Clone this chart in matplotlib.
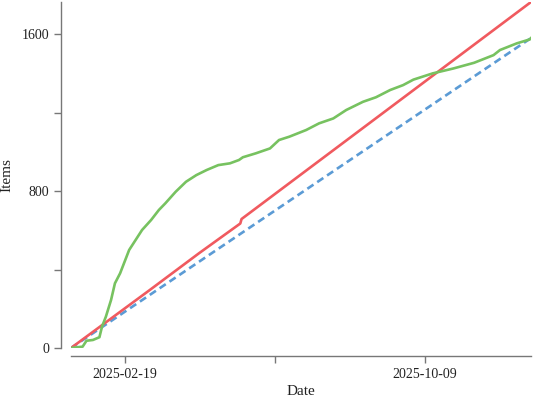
import matplotlib
matplotlib.use("Agg")
import matplotlib.pyplot as plt
import matplotlib.dates as mdates
import pandas as pd

plt.rcParams['font.family'] = ['Liberation Serif', 'DejaVu Serif']

# Serie verde (itens acumulados reais)
green_dates = ["2025-01-08", "2025-01-17", "2025-01-20", "2025-01-25", "2025-01-30",
               "2025-02-01", "2025-02-04", "2025-02-08", "2025-02-11", "2025-02-15",
               "2025-02-19", "2025-02-22", "2025-02-27", "2025-03-04", "2025-03-11",
               "2025-03-17", "2025-03-22", "2025-03-30", "2025-04-07", "2025-04-15",
               "2025-04-23", "2025-05-02", "2025-05-11", "2025-05-18", "2025-05-21",
               "2025-05-31", "2025-06-11", "2025-06-18", "2025-06-26", "2025-07-09",
               "2025-07-19", "2025-07-30", "2025-08-09", "2025-08-22", "2025-09-01",
               "2025-09-12", "2025-09-22", "2025-09-30", "2025-10-15", "2025-10-31",
               "2025-11-16", "2025-12-01", "2025-12-06", "2025-12-19", "2025-12-29",
               "2025-12-30"]
green_values = [0, 7, 37, 41, 55, 109, 160, 245, 330, 381,
                449, 500, 551, 602, 653, 704, 738, 797, 848, 882,
                908, 933, 942, 959, 973, 993, 1018, 1061, 1078, 1112,
                1146, 1171, 1214, 1256, 1279, 1316, 1341, 1369, 1401, 1426,
                1455, 1494, 1520, 1554, 1574, 1581]

# Serie vermelha
red_dates = ["2025-01-08", "2025-03-10", "2025-04-17", "2025-05-19", "2025-05-20", "2025-12-30"]
red_values = [0, 296, 483, 635, 658, 1765]

# Serie azul tracejada
blue_dates = ["2025-01-08", "2025-12-30"]
blue_values = [0, 1581]

xtick_dates = ["2025-02-19", "2025-06-15", "2025-10-09"]
xtick_labels = ["2025-02-19", "", "2025-10-09"]
ytick_values = [0, 400, 800, 1200, 1600]
ytick_labels = ["0", "", "800", "", "1600"]

fig = plt.figure(figsize=(5.33, 4), dpi=100)
ax = fig.add_axes([71 / 533, 52 / 400, 460 / 533, 346 / 400])

ax.plot(pd.to_datetime(blue_dates), blue_values, color="#5b9bd5", lw=1.9,
        dashes=(2.8, 1.7), solid_capstyle="butt")
ax.plot(pd.to_datetime(red_dates), red_values, color="#f05a5f", lw=1.9)
ax.plot(pd.to_datetime(green_dates), green_values, color="#77c260", lw=1.9)

ax.set_xlim(pd.Timestamp("2025-01-08"), pd.Timestamp("2025-12-30"))
ax.set_ylim(0, 1765)

ax.set_xticks(pd.to_datetime(xtick_dates))
ax.set_xticklabels(xtick_labels)
ax.set_yticks(ytick_values)
ax.set_yticklabels(ytick_labels)

for s in ["top", "right"]:
    ax.spines[s].set_visible(False)
ax.spines["left"].set_position(("outward", 7.2))
ax.spines["bottom"].set_position(("outward", 5.8))
for s in ["left", "bottom"]:
    ax.spines[s].set_color("#777777")
    ax.spines[s].set_linewidth(1.0)
ax.tick_params(colors="#777777", labelcolor="#222222", length=5, width=1, labelsize=10)

ax.set_xlabel("Date", fontsize=11, color="#222222", labelpad=3)
ax.set_ylabel("Items", fontsize=11, color="#222222", labelpad=6)

fig.savefig("out.png", dpi=100)
